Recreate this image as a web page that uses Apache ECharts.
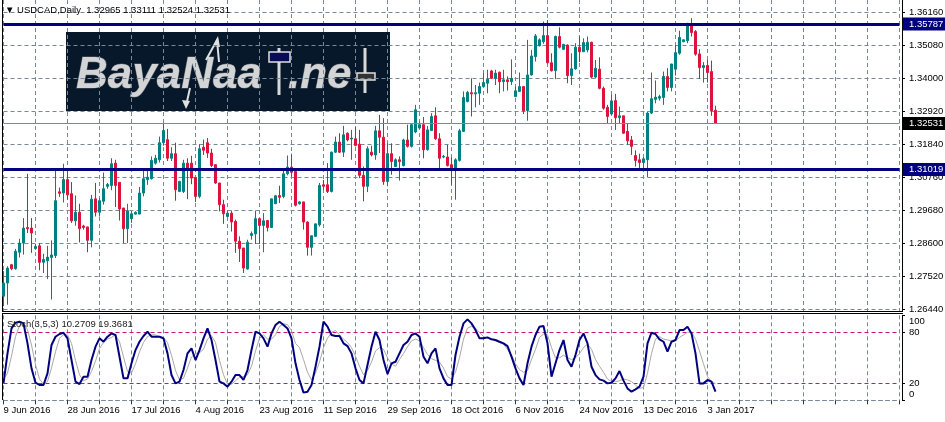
<!DOCTYPE html>
<html><head><meta charset="utf-8">
<script src="https://cdn.jsdelivr.net/npm/echarts@6/dist/echarts.min.js"></script>
<style>html,body{margin:0;padding:0;background:#fff}#c{width:945px;height:422px}</style>
</head><body><div id="c"></div><script>
// ---- data (USDCAD daily) ----
const open = [1.2687,1.2730,1.2790,1.2777,1.2831,1.2861,1.2912,1.2910,1.2843,1.2852,1.2798,1.2803,1.2814,1.2820,1.3029,1.3025,1.3069,1.3023,1.2934,1.2962,
1.2917,1.2914,1.2870,1.3006,1.2962,1.2998,1.3047,1.3050,1.3123,1.3060,1.2976,1.2908,1.2941,1.2956,1.2956,1.3025,1.3069,1.3072,1.3123,1.3134,
1.3190,1.3200,1.3139,1.3154,1.3030,1.3030,1.3123,1.3123,1.3076,1.3014,1.3175,1.3190,1.3156,1.3118,1.3058,1.2987,1.2948,1.2959,1.2932,1.2867,
1.2845,1.2776,1.2886,1.2891,1.2941,1.2919,1.2935,1.2912,1.2990,1.3017,1.3014,1.3088,1.3110,1.3096,1.2990,1.2996,1.2930,1.2847,1.2883,1.2921,
1.3052,1.3052,1.3030,1.3159,1.3192,1.3159,1.3221,1.3202,1.3203,1.3185,1.3083,1.3047,1.3159,1.3150,1.3229,1.3208,1.3063,1.3154,1.3112,1.3134,
1.3115,1.3199,1.3178,1.3225,1.3238,1.3249,1.3167,1.3230,1.3278,1.3203,1.3143,1.3143,1.3118,1.3105,1.3132,1.3227,1.3325,1.3354,1.3350,1.3352,
1.3374,1.3385,1.3425,1.3401,1.3421,1.3390,1.3396,1.3390,1.3341,1.3358,1.3374,1.3295,1.3412,1.3472,1.3508,1.3521,1.3541,1.3452,1.3426,1.3538,
1.3496,1.3510,1.3410,1.3432,1.3503,1.3488,1.3494,1.3519,1.3405,1.3431,1.3368,1.3306,1.3284,1.3328,1.3272,1.3278,1.3227,1.3199,1.3148,1.3134,
1.3125,1.3134,1.3287,1.3332,1.3336,1.3338,1.3407,1.3371,1.3431,1.3483,1.3521,1.3524,1.3576,1.3554,1.3481,1.3436,1.3443,1.3423,1.32965];
const close = [1.2730,1.2779,1.2777,1.2834,1.2861,1.2910,1.2908,1.2894,1.2850,1.2798,1.2807,1.2815,1.2822,1.3000,1.3024,1.3069,1.3019,1.2934,1.2962,1.2908,
1.2912,1.2870,1.3005,1.2962,1.3000,1.3039,1.3053,1.3121,1.3050,1.2973,1.2908,1.2967,1.2957,1.2962,1.3025,1.3072,1.3077,1.3132,1.3139,1.3190,
1.3230,1.3139,1.3154,1.3036,1.3063,1.3123,1.3104,1.3074,1.3014,1.3170,1.3165,1.3156,1.3115,1.3058,1.2987,1.2957,1.2959,1.2930,1.2867,1.2843,
1.2779,1.2864,1.2892,1.2941,1.2919,1.2934,1.2912,1.3006,1.3016,1.3011,1.3088,1.3110,1.3093,1.2985,1.2996,1.2930,1.2847,1.2885,1.2924,1.3050,
1.3047,1.3030,1.3159,1.3192,1.3159,1.3216,1.3199,1.3205,1.3181,1.3083,1.3047,1.3170,1.3150,1.3229,1.3208,1.3063,1.3154,1.3128,1.3134,1.3128,
1.3199,1.3178,1.3249,1.3298,1.3249,1.3167,1.3232,1.3276,1.3203,1.3139,1.3145,1.3115,1.3105,1.3134,1.3229,1.3338,1.3355,1.3350,1.3354,1.3374,
1.3387,1.3398,1.3401,1.3418,1.3390,1.3396,1.3390,1.3401,1.3360,1.3374,1.3295,1.3412,1.3474,1.3540,1.3527,1.3541,1.3452,1.3426,1.3538,1.3503,
1.3512,1.3410,1.3432,1.3503,1.3488,1.3518,1.3519,1.3405,1.3434,1.3368,1.3303,1.3276,1.3327,1.3272,1.3278,1.3221,1.3196,1.3178,1.3132,1.3125,
1.3137,1.3287,1.3334,1.3339,1.3341,1.3407,1.3371,1.3448,1.3485,1.3535,1.3527,1.3576,1.3551,1.3480,1.3436,1.3443,1.3420,1.3295,1.32531];
const high = [1.2769,1.2785,1.2793,1.2842,1.2875,1.2943,1.3088,1.2943,1.2858,1.2861,1.2826,1.2852,1.2870,1.3099,1.3043,1.3121,1.3107,1.3061,1.3017,1.2990,
1.2921,1.2914,1.3019,1.3058,1.3008,1.3092,1.3058,1.3139,1.3134,1.3060,1.2976,1.2990,1.2965,1.2965,1.3045,1.3099,1.3101,1.3145,1.3150,1.3210,
1.3255,1.3235,1.3175,1.3190,1.3065,1.3134,1.3139,1.3147,1.3076,1.3185,1.3200,1.3205,1.3170,1.3118,1.3058,1.3003,1.2967,1.2967,1.2938,1.2883,
1.2845,1.2872,1.2899,1.2967,1.2943,1.2959,1.2935,1.3006,1.3019,1.3049,1.3099,1.3148,1.3154,1.3099,1.2998,1.2996,1.2932,1.2885,1.2924,1.3058,
1.3068,1.3123,1.3161,1.3210,1.3221,1.3245,1.3224,1.3232,1.3241,1.3232,1.3112,1.3178,1.3180,1.3245,1.3281,1.3270,1.3188,1.3188,1.3139,1.3145,
1.3203,1.3249,1.3254,1.3314,1.3260,1.3274,1.3245,1.3287,1.3306,1.3221,1.3150,1.3183,1.3142,1.3139,1.3235,1.3358,1.3360,1.3401,1.3379,1.3387,
1.3418,1.3429,1.3429,1.3429,1.3423,1.3429,1.3407,1.3463,1.3374,1.3420,1.3374,1.3527,1.3494,1.3546,1.3532,1.3587,1.3592,1.3483,1.3541,1.3568,
1.3514,1.3512,1.3483,1.3516,1.3538,1.3532,1.3538,1.3521,1.3461,1.3470,1.3374,1.3314,1.3347,1.3350,1.3308,1.3278,1.3252,1.3212,1.3165,1.3154,
1.3143,1.3292,1.3420,1.3394,1.3347,1.3423,1.3434,1.3448,1.3510,1.3557,1.3529,1.3583,1.3598,1.3559,1.3496,1.3454,1.3461,1.3459,1.33111];
const low = [1.2654,1.2659,1.2772,1.2774,1.2814,1.2823,1.2894,1.2829,1.2839,1.2772,1.2763,1.2743,1.2676,1.2812,1.3012,1.2994,1.3003,1.2927,1.2918,1.2863,
1.2905,1.2831,1.2847,1.2948,1.2948,1.2987,1.3039,1.3034,1.2979,1.2935,1.2861,1.2861,1.2927,1.2954,1.2956,1.3014,1.3052,1.3069,1.3118,1.3125,
1.3180,1.3130,1.3130,1.3000,1.3028,1.3025,1.3005,1.3054,1.2996,1.3008,1.3150,1.3140,1.3110,1.3055,1.2965,1.2924,1.2948,1.2899,1.2829,1.2799,
1.2763,1.2774,1.2872,1.2858,1.2858,1.2831,1.2899,1.2910,1.2990,1.2992,1.3008,1.3083,1.3079,1.2981,1.2987,1.2905,1.2820,1.2820,1.2881,1.2915,
1.3036,1.3025,1.3027,1.3156,1.3156,1.3143,1.3194,1.3134,1.3178,1.3074,1.2998,1.3028,1.3145,1.3134,1.3156,1.3052,1.3047,1.3085,1.3112,1.3066,
1.3112,1.3174,1.3174,1.3221,1.3235,1.3139,1.3164,1.3228,1.3199,1.3103,1.3139,1.3112,1.3052,1.3003,1.3128,1.3225,1.3322,1.3276,1.3306,1.3314,
1.3374,1.3352,1.3399,1.3379,1.3352,1.3358,1.3361,1.3379,1.3339,1.3358,1.3284,1.3262,1.3410,1.3456,1.3505,1.3514,1.3450,1.3423,1.3398,1.3499,
1.3494,1.3385,1.3379,1.3429,1.3454,1.3488,1.3486,1.3401,1.3401,1.3365,1.3298,1.3254,1.3281,1.3232,1.3254,1.3219,1.3183,1.3150,1.3112,1.3107,
1.3101,1.3077,1.3284,1.3319,1.3328,1.3314,1.3358,1.3358,1.3410,1.3478,1.3519,1.3516,1.3538,1.3475,1.3399,1.3387,1.3387,1.3278,1.32524];
const stochK = [19.9,55.2,84.6,91.3,92.5,90.5,67,37.6,20.7,18,18,31.7,65,74.8,78,79.5,72.9,47.4,21.9,19.1,
27.8,27.8,47.4,63.1,72.9,68.9,74.8,78.7,76.8,51.3,25.8,25.8,43.5,59.1,68.9,75.6,80.7,74.8,74.8,74.8,
72.9,55.2,29.7,19.9,21.9,35.6,55.2,61.1,47.4,59.1,72.9,84.6,70.9,47.4,21.9,19.9,16,21.9,29.7,29.7,
23.9,35.6,59.1,80.7,78.7,72.9,63.1,78.7,88.6,92.5,88.6,84.6,72.9,43.5,23.9,9,10.1,18,39.5,63.1,
92.5,86.6,76.8,75.6,75.6,67,63.8,55.2,37.6,23.9,19.9,41.5,63.1,80.7,70.9,47.4,30.9,43.5,45.4,55.2,
65,68.9,76.8,78.7,74.8,51.3,43.5,55.2,61.1,37.6,25.8,18,18,53.3,74.8,90.5,95.2,90.5,82.7,72.9,
72.9,74,71.7,70.9,68.9,67,63.8,51.3,37.6,25.8,18,43.5,63.1,76.8,86.6,87.4,67,27.8,43.5,59.1,
70.9,47.4,39.5,53.3,70.9,78.7,67,39.5,29.7,24.6,23.1,19.9,20.7,25.8,34.4,23.1,14,10.1,12.9,16,
27.8,67,79.5,78,71.7,68.9,57.2,68.9,70.9,82.7,82.7,86.6,78.7,55.2,19.9,19.9,23.9,21.9,10.2709];
const stochD = [25,32,52,75,88,91,83,65,42,25,19,22,38,57,73,77,77,67,47,30,
23,25,34,46,61,68,72,74,77,69,51,34,32,43,57,68,75,77,77,75,
74,68,53,35,24,26,38,51,55,56,60,72,76,68,47,30,19,19,23,27,
28,30,40,58,73,77,72,72,77,87,90,89,82,67,62,48,33,24,32,45,
62,73,80,82,77,72,68,62,52,40,30,35,45,58,62,60,50,43,40,48,
55,63,70,72,70,62,54,49,47,45,38,28,25,33,50,72,85,87,85,80,
75,73,72,70,68,66,60,53,43,36,33,35,48,60,74,78,77,62,50,50,
53,50,48,50,55,62,66,60,48,40,33,25,22,22,23,25,24,22,18,14,
15,32,55,72,75,72,71,70,70,74,77,80,80,72,58,43,28,22,19.3681];
const priceTicks = [1.2644,1.2752,1.2860,1.2968,1.3076,1.3184,1.3292,1.3400,1.3508,1.3616];
const levelLines = [1.35787, 1.31019];
const lastPrice = 1.32531;
const stochLevels = [20, 80];
const stochTicks = [0, 20, 80, 100];
const tickLabels = ['9 Jun 2016','28 Jun 2016','17 Jul 2016','4 Aug 2016','23 Aug 2016','11 Sep 2016',
  '29 Sep 2016','18 Oct 2016','6 Nov 2016','24 Nov 2016','13 Dec 2016','3 Jan 2017'];
const shiftBars = 46; // empty space on the right (chart shift)

// broker calendar: Sunday bars included, Saturdays and two holiday Sundays skipped
const MONTHS = ['Jan','Feb','Mar','Apr','May','Jun','Jul','Aug','Sep','Oct','Nov','Dec'];
const closedDays = ['2016-12-25','2017-01-01'];
const dates = [];
for (let t = Date.UTC(2016,5,9); dates.length < open.length; t += 86400000) {
  const d = new Date(t);
  if (d.getUTCDay() === 6 || closedDays.includes(d.toISOString().slice(0,10))) continue;
  dates.push(d.getUTCDate() + ' ' + MONTHS[d.getUTCMonth()] + ' ' + d.getUTCFullYear());
}
const categories = dates.concat(new Array(shiftBars).fill(''));
const candles = open.map((o, i) => [o, close[i], low[i], high[i]]);

const FONT = 'Liberation Sans';
const GRID = '#778899';
const DASH = [4, 3];
const n = open.length - 1;

const chart = echarts.init(document.getElementById('c'), null, {renderer: 'canvas'});
const levelLabel = (bg) => ({show: true, position: 'end', distance: 3.5, color: '#fff', backgroundColor: bg,
  padding: [2, 3, 1, 6], fontSize: 9.5, fontFamily: FONT, formatter: p => Number(p.value).toFixed(5)});

chart.setOption({
  animation: false,
  backgroundColor: '#fff',
  textStyle: {fontFamily: FONT},
  grid: [
    {left: 3.5, width: 896, top: 0, height: 311, outerBoundsMode: 'none', containLabel: false},
    {left: 3.5, width: 896, top: 315.3, height: 85, outerBoundsMode: 'none', containLabel: false}
  ],
  xAxis: [
    {gridIndex: 0, type: 'category', data: categories, boundaryGap: false,
     axisLine: {show: false}, axisTick: {show: false}, axisLabel: {show: false},
     splitLine: {show: true, interval: 7, lineStyle: {color: GRID, type: DASH, width: 1}}},
    {gridIndex: 1, type: 'category', data: categories, boundaryGap: false,
     axisLine: {show: true, lineStyle: {color: GRID, type: DASH, width: 1}},
     axisTick: {show: true, interval: 7, length: 4, lineStyle: {color: '#333'}},
     axisLabel: {show: true, interval: 15, align: 'left', margin: 5, fontSize: 9.5, color: '#000',
       formatter: (v, i) => (i % 16 === 0 && tickLabels[i / 16]) ? tickLabels[i / 16] : ''},
     splitLine: {show: true, interval: 7, lineStyle: {color: GRID, type: DASH, width: 1}}}
  ],
  yAxis: [
    {gridIndex: 0, type: 'value', position: 'right', offset: 2.5, min: 1.26384, max: 1.36576, scale: true,
     axisLine: {show: true, lineStyle: {color: '#000', width: 1}},
     axisTick: {show: true, customValues: priceTicks, length: 3, lineStyle: {color: '#000'}},
     axisLabel: {show: true, customValues: priceTicks, margin: 7, fontSize: 9.5, color: '#000',
       formatter: v => v.toFixed(5)},
     splitLine: {show: false}},
    {gridIndex: 1, type: 'value', position: 'right', offset: 2.5, min: 0, max: 100,
     axisLine: {show: true, lineStyle: {color: '#000', width: 1}},
     axisTick: {show: true, customValues: stochTicks, length: 3, lineStyle: {color: '#000'}},
     axisLabel: {show: true, customValues: stochTicks, margin: 7, fontSize: 9.5, color: '#000',
       formatter: v => v === 100 ? '{a|100}' : (v === 0 ? '{b|0}' : String(v)),
       rich: {a: {padding: [12, 0, 0, 0], fontSize: 9.5}, b: {padding: [0, 0, 12, 0], fontSize: 9.5}}},
     splitLine: {show: false}}
  ],
  series: [
    {type: 'candlestick', xAxisIndex: 0, yAxisIndex: 0, data: candles, barWidth: 2, z: 3,
     itemStyle: {color: '#008080', color0: '#dc143c', borderColor: '#008080', borderColor0: '#dc143c', borderWidth: 1},
     markLine: {z: 1, silent: true, symbol: 'none', animation: false, precision: 5, label: {show: false},
       lineStyle: {color: GRID, type: DASH, width: 1},
       data: priceTicks.map(v => ({yAxis: v}))}},
    {type: 'line', xAxisIndex: 0, yAxisIndex: 0, data: [], silent: true,
     markLine: {z: 6, silent: true, symbol: 'none', animation: false, precision: 5,
       data: [
         {yAxis: levelLines[0], lineStyle: {color: '#000080', width: 3, type: 'solid'}, label: levelLabel('#000080')},
         {yAxis: levelLines[1], lineStyle: {color: '#000080', width: 3, type: 'solid'}, label: levelLabel('#000080')},
         {yAxis: lastPrice, lineStyle: {color: '#7f8994', width: 1, type: 'solid'}, label: levelLabel('#000000')}
       ]}},
    {type: 'line', xAxisIndex: 1, yAxisIndex: 1, data: stochD, symbol: 'none', z: 3,
     lineStyle: {color: '#a8a8a8', width: 1}, silent: true,
     markLine: {z: 1, silent: true, symbol: 'none', animation: false, label: {show: false},
       lineStyle: {color: '#c8127a', type: DASH, width: 1},
       data: stochLevels.map(v => ({yAxis: v}))}},
    {type: 'line', xAxisIndex: 1, yAxisIndex: 1, data: stochK, symbol: 'none', z: 4,
     lineStyle: {color: '#000080', width: 2}, silent: true}
  ],
  graphic: {elements: [
    // panel frames
    {type: 'line', shape: {x1: 2.5, y1: 0, x2: 2.5, y2: 311}, style: {stroke: '#000', lineWidth: 1}, silent: true},
    {type: 'line', shape: {x1: 2, y1: 311.5, x2: 903, y2: 311.5}, style: {stroke: '#000', lineWidth: 1}, silent: true},
    {type: 'line', shape: {x1: 2, y1: 313.5, x2: 903, y2: 313.5}, style: {stroke: '#000', lineWidth: 1}, silent: true},
    {type: 'line', shape: {x1: 2.5, y1: 313.5, x2: 2.5, y2: 400}, style: {stroke: '#000', lineWidth: 1}, silent: true},
    // header
    {type: 'text', x: 5, y: 10, silent: true, z: 10,
     style: {text: '\u25BC USDCAD,Daily  ' + [open[n], high[n], low[n], close[n]].map(v => v.toFixed(5)).join(' '),
       fill: '#000', font: '9.5px "Liberation Sans"', verticalAlign: 'middle'}},
    {type: 'text', x: 7, y: 324, silent: true, z: 10,
     style: {text: 'Stoch(3,5,3) ' + stochK[n].toFixed(4) + ' ' + stochD[n].toFixed(4),
       fill: '#222', font: '9.5px "Liberation Sans"', verticalAlign: 'middle'}},
    // logo
    {type: 'group', silent: true, z: 20, children: [
      {type: 'rect', shape: {x: 66, y: 32, width: 324, height: 79}, style: {fill: '#07182a'}},
      {type: 'text', x: 76, y: 76, style: {text: 'BayaNaa', font: 'italic bold 44px "Liberation Sans"',
        verticalAlign: 'middle', fill: '#d2d4d6', stroke: '#5a5e63', lineWidth: 1}},
      {type: 'text', x: 288, y: 76, style: {text: '.ne', font: 'italic bold 44px "Liberation Sans"',
        verticalAlign: 'middle', fill: '#d2d4d6', stroke: '#5a5e63', lineWidth: 1}},
      {type: 'line', shape: {x1: 279, y1: 48, x2: 279, y2: 95}, style: {stroke: '#d8d8d8', lineWidth: 3}},
      {type: 'rect', shape: {x: 269, y: 52, width: 21, height: 10}, style: {fill: '#0a0a5a', stroke: '#e0e0e0', lineWidth: 1.5}},
      {type: 'line', shape: {x1: 365, y1: 48, x2: 365, y2: 93}, style: {stroke: '#d8d8d8', lineWidth: 3}},
      {type: 'rect', shape: {x: 357, y: 73, width: 18, height: 7}, style: {fill: '#333', stroke: '#e0e0e0', lineWidth: 1.5}},
      {type: 'polyline', shape: {points: [[206, 60], [217, 40], [219, 62]]}, style: {stroke: '#e0e0e0', lineWidth: 2, fill: null}},
      {type: 'polygon', shape: {points: [[213, 46], [218, 36], [220, 47]]}, style: {fill: '#e0e0e0'}},
      {type: 'polyline', shape: {points: [[190, 88], [186, 106]]}, style: {stroke: '#e0e0e0', lineWidth: 2}},
      {type: 'polygon', shape: {points: [[182, 100], [186, 109], [190, 101]]}, style: {fill: '#e0e0e0'}}
    ]}
  ]}
});
</script></body></html>
